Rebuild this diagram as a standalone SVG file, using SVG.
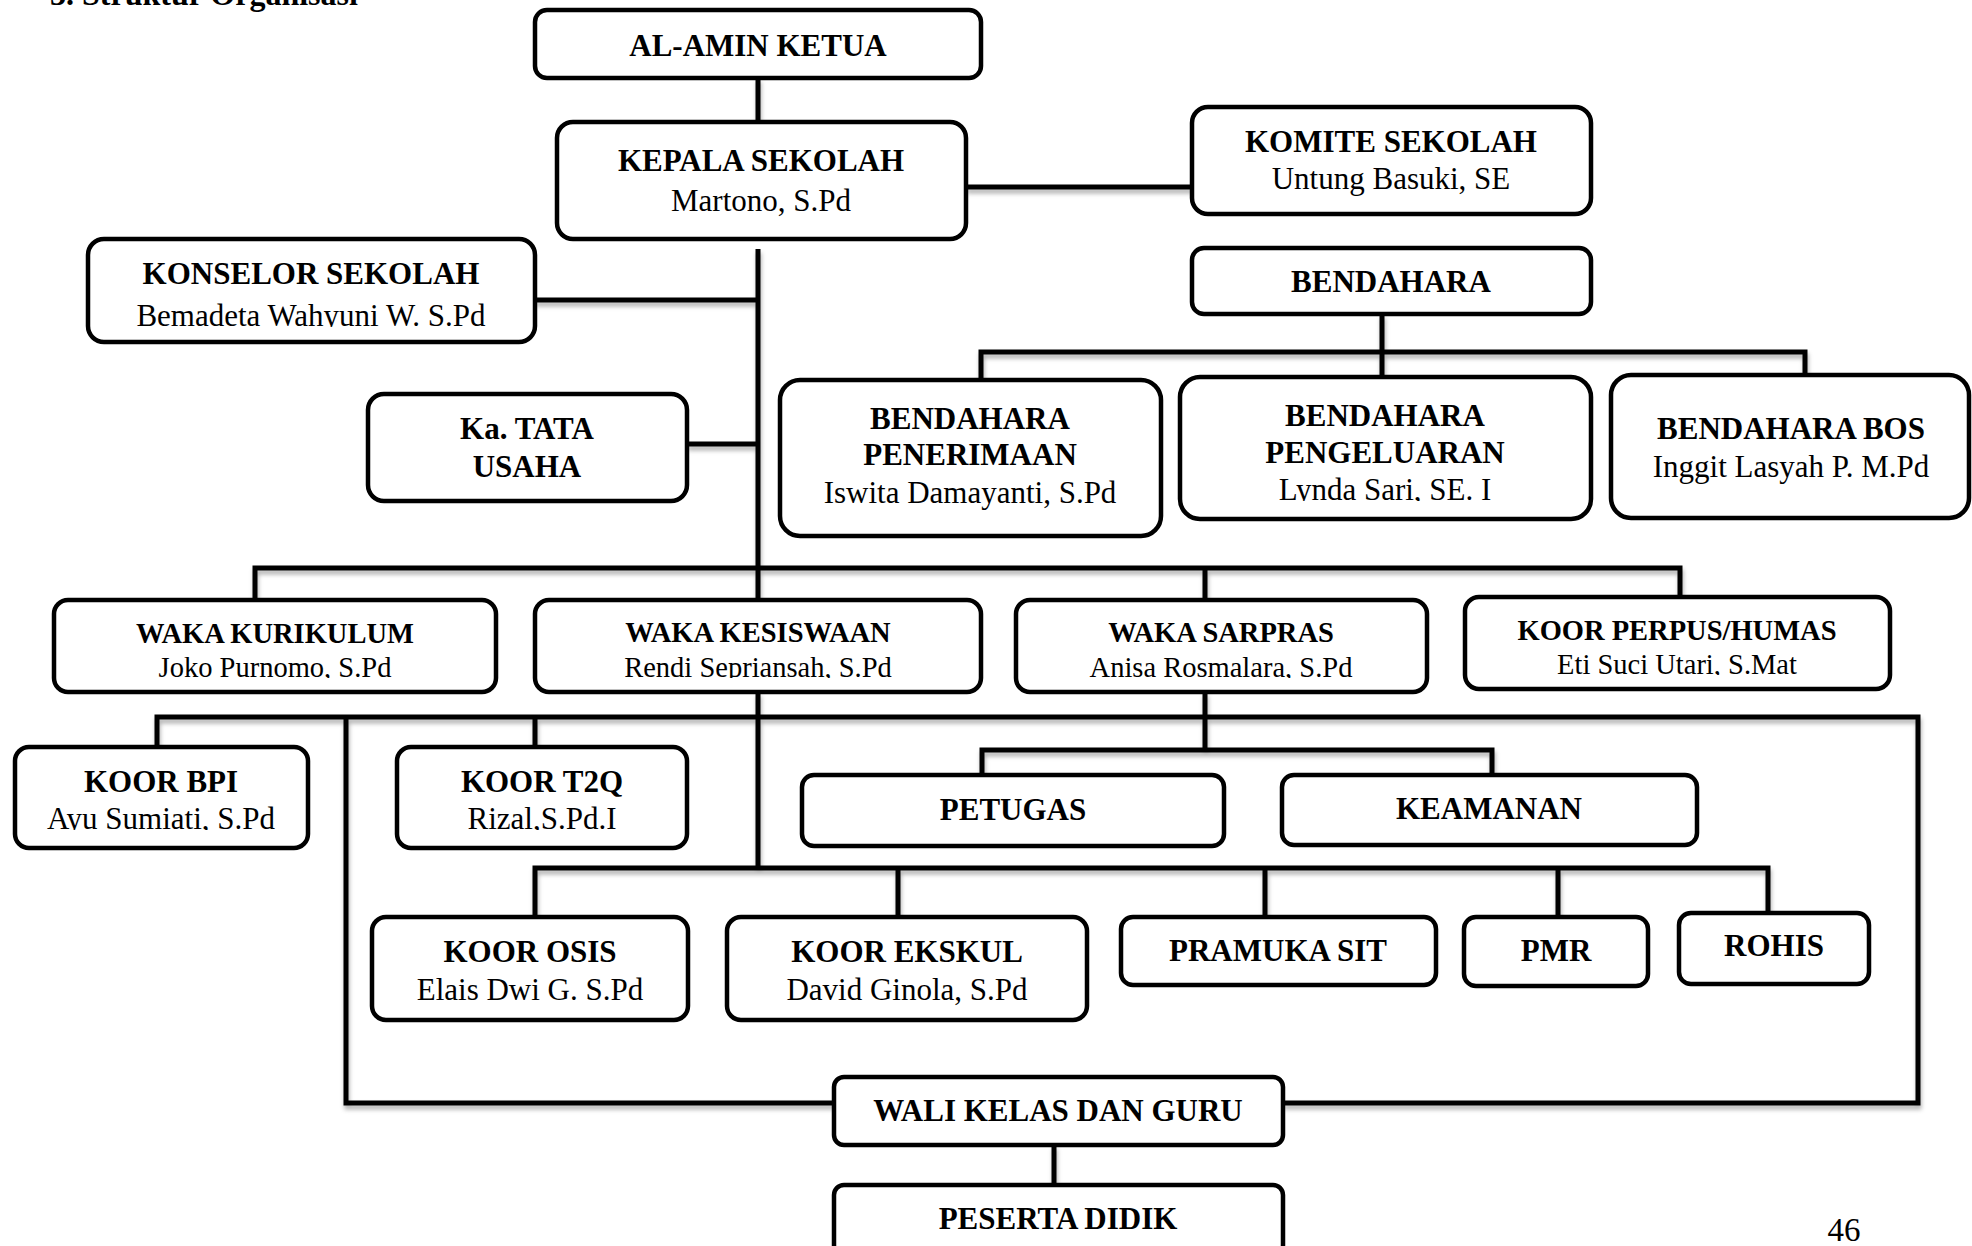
<svg xmlns="http://www.w3.org/2000/svg" width="1972" height="1246" viewBox="0 0 1972 1246">
<style>
.box{fill:#fff;stroke:#000;stroke-width:4.5}
.con{fill:none;stroke:#000;stroke-width:5;stroke-linejoin:miter}
text{font-family:"Liberation Serif","Times New Roman",serif;text-anchor:middle;fill:#000}
.b{font-weight:bold;font-size:31px}
.r{font-size:31px}
.bs{font-weight:bold;font-size:28.5px}
.rs{font-size:28.5px}
</style>
<defs>
<filter id="sh" x="-5%" y="-20%" width="110%" height="160%">
<feDropShadow dx="1" dy="4" stdDeviation="2" flood-color="#000" flood-opacity="0.3"/>
</filter>
<clipPath id="c-konselor"><rect x="88" y="239" width="447" height="88"/></clipPath>
<clipPath id="c-pengel"><rect x="1180" y="377" width="411" height="124"/></clipPath>
<clipPath id="c-kur"><rect x="54" y="600" width="442" height="78"/></clipPath>
<clipPath id="c-kes"><rect x="535" y="600" width="446" height="78"/></clipPath>
<clipPath id="c-sar"><rect x="1016" y="600" width="411" height="78"/></clipPath>
<clipPath id="c-per"><rect x="1465" y="597" width="425" height="78"/></clipPath>
<clipPath id="c-bpi"><rect x="15" y="747" width="293" height="83"/></clipPath>
<clipPath id="c-t2q"><rect x="397" y="747" width="290" height="83"/></clipPath>
</defs>
<text x="50" y="5" style="text-anchor:start;font-weight:bold;font-size:32px">3. Struktur Organisasi</text>
<g id="connectors" filter="url(#sh)">
<path class="con" d="M758 78V122"/>
<path class="con" d="M966 187H1192"/>
<path class="con" d="M1382 314V377M981 380V352H1805V377"/>
<path class="con" d="M758 249V600"/>
<path class="con" d="M535 300H758"/>
<path class="con" d="M687 444H758"/>
<path class="con" d="M255 600V568H1680V597M1205 568V600"/>
<path class="con" d="M758 692V868"/>
<path class="con" d="M157 747V717H1918V1103H1283M346 717V1103H834M535 717V747"/>
<path class="con" d="M1205 692V750M982 775V750H1492V775"/>
<path class="con" d="M535 917V868H1768V913M898 868V917M1265 868V917M1558 868V917"/>
<path class="con" d="M1054 1145V1185"/>
</g>
<g id="alamin"><rect class="box" x="535" y="10" width="446" height="68" rx="12"/><text class="b" x="758" y="56">AL-AMIN KETUA</text></g>
<g id="kepala"><rect class="box" x="557" y="122" width="409" height="117" rx="16"/><text class="b" x="761" y="171">KEPALA SEKOLAH</text><text class="r" x="761" y="211">Martono, S.Pd</text></g>
<g id="komite"><rect class="box" x="1192" y="107" width="399" height="107" rx="16"/><text class="b" x="1391" y="152">KOMITE SEKOLAH</text><text class="r" x="1391" y="189">Untung Basuki, SE</text></g>
<g id="bendahara"><rect class="box" x="1192" y="248" width="399" height="66" rx="12"/><text class="b" x="1391" y="292">BENDAHARA</text></g>
<g id="penerimaan"><rect class="box" x="780" y="380" width="381" height="156" rx="20"/><text class="b" x="970" y="429">BENDAHARA</text><text class="b" x="970" y="465">PENERIMAAN</text><text class="r" x="970" y="503">Iswita Damayanti, S.Pd</text></g>
<g id="pengeluaran"><rect class="box" x="1180" y="377" width="411" height="142" rx="20"/><text class="b" x="1385" y="426">BENDAHARA</text><text class="b" x="1385" y="463">PENGELUARAN</text><text class="r" x="1385" y="500" clip-path="url(#c-pengel)">Lynda Sari, SE. I</text></g>
<g id="bos"><rect class="box" x="1611" y="375" width="358" height="143" rx="20"/><text class="b" x="1791" y="439">BENDAHARA BOS</text><text class="r" x="1791" y="477">Inggit Lasyah P. M.Pd</text></g>
<g id="konselor"><rect class="box" x="88" y="239" width="447" height="103" rx="16"/><text class="b" x="311" y="284">KONSELOR SEKOLAH</text><text class="r" x="311" y="326" clip-path="url(#c-konselor)">Bemadeta Wahyuni W. S.Pd</text></g>
<g id="tatausaha"><rect class="box" x="368" y="394" width="319" height="107" rx="16"/><text class="b" x="527" y="439">Ka. TATA</text><text class="b" x="527" y="477">USAHA</text></g>
<g id="kurikulum"><rect class="box" x="54" y="600" width="442" height="92" rx="14"/><text class="bs" x="275" y="643">WAKA KURIKULUM</text><text class="rs" x="275" y="677" clip-path="url(#c-kur)">Joko Purnomo, S.Pd</text></g>
<g id="kesiswaan"><rect class="box" x="535" y="600" width="446" height="92" rx="14"/><text class="bs" x="758" y="642">WAKA KESISWAAN</text><text class="rs" x="758" y="677" clip-path="url(#c-kes)">Rendi Sepriansah, S.Pd</text></g>
<g id="sarpras"><rect class="box" x="1016" y="600" width="411" height="92" rx="14"/><text class="bs" x="1221" y="642">WAKA SARPRAS</text><text class="rs" x="1221" y="677" clip-path="url(#c-sar)">Anisa Rosmalara, S.Pd</text></g>
<g id="perpus"><rect class="box" x="1465" y="597" width="425" height="92" rx="14"/><text class="bs" x="1677" y="640">KOOR PERPUS/HUMAS</text><text class="rs" x="1677" y="674" clip-path="url(#c-per)">Eti Suci Utari, S.Mat</text></g>
<g id="bpi"><rect class="box" x="15" y="747" width="293" height="101" rx="14"/><text class="b" x="161" y="792">KOOR BPI</text><text class="r" x="161" y="829" clip-path="url(#c-bpi)">Ayu Sumiati, S.Pd</text></g>
<g id="t2q"><rect class="box" x="397" y="747" width="290" height="101" rx="14"/><text class="b" x="542" y="792">KOOR T2Q</text><text class="r" x="542" y="829" clip-path="url(#c-t2q)">Rizal,S.Pd.I</text></g>
<g id="petugas"><rect class="box" x="802" y="775" width="422" height="71" rx="12"/><text class="b" x="1013" y="820">PETUGAS</text></g>
<g id="keamanan"><rect class="box" x="1282" y="775" width="415" height="70" rx="12"/><text class="b" x="1489" y="819">KEAMANAN</text></g>
<g id="osis"><rect class="box" x="372" y="917" width="316" height="103" rx="14"/><text class="b" x="530" y="962">KOOR OSIS</text><text class="r" x="530" y="1000">Elais Dwi G. S.Pd</text></g>
<g id="ekskul"><rect class="box" x="727" y="917" width="360" height="103" rx="14"/><text class="b" x="907" y="962">KOOR EKSKUL</text><text class="r" x="907" y="1000">David Ginola, S.Pd</text></g>
<g id="pramuka"><rect class="box" x="1121" y="917" width="315" height="68" rx="12"/><text class="b" x="1278" y="961">PRAMUKA SIT</text></g>
<g id="pmr"><rect class="box" x="1464" y="917" width="184" height="69" rx="12"/><text class="b" x="1556" y="961">PMR</text></g>
<g id="rohis"><rect class="box" x="1679" y="913" width="190" height="71" rx="12"/><text class="b" x="1774" y="956">ROHIS</text></g>
<g id="wali"><rect class="box" x="834" y="1077" width="449" height="68" rx="10"/><text class="b" x="1058" y="1121">WALI KELAS DAN GURU</text></g>
<g id="peserta"><rect class="box" x="834" y="1185" width="449" height="70" rx="10"/><text class="b" x="1058" y="1229">PESERTA DIDIK</text></g>
<text x="1844" y="1241" style="font-size:33px">46</text>
</svg>
